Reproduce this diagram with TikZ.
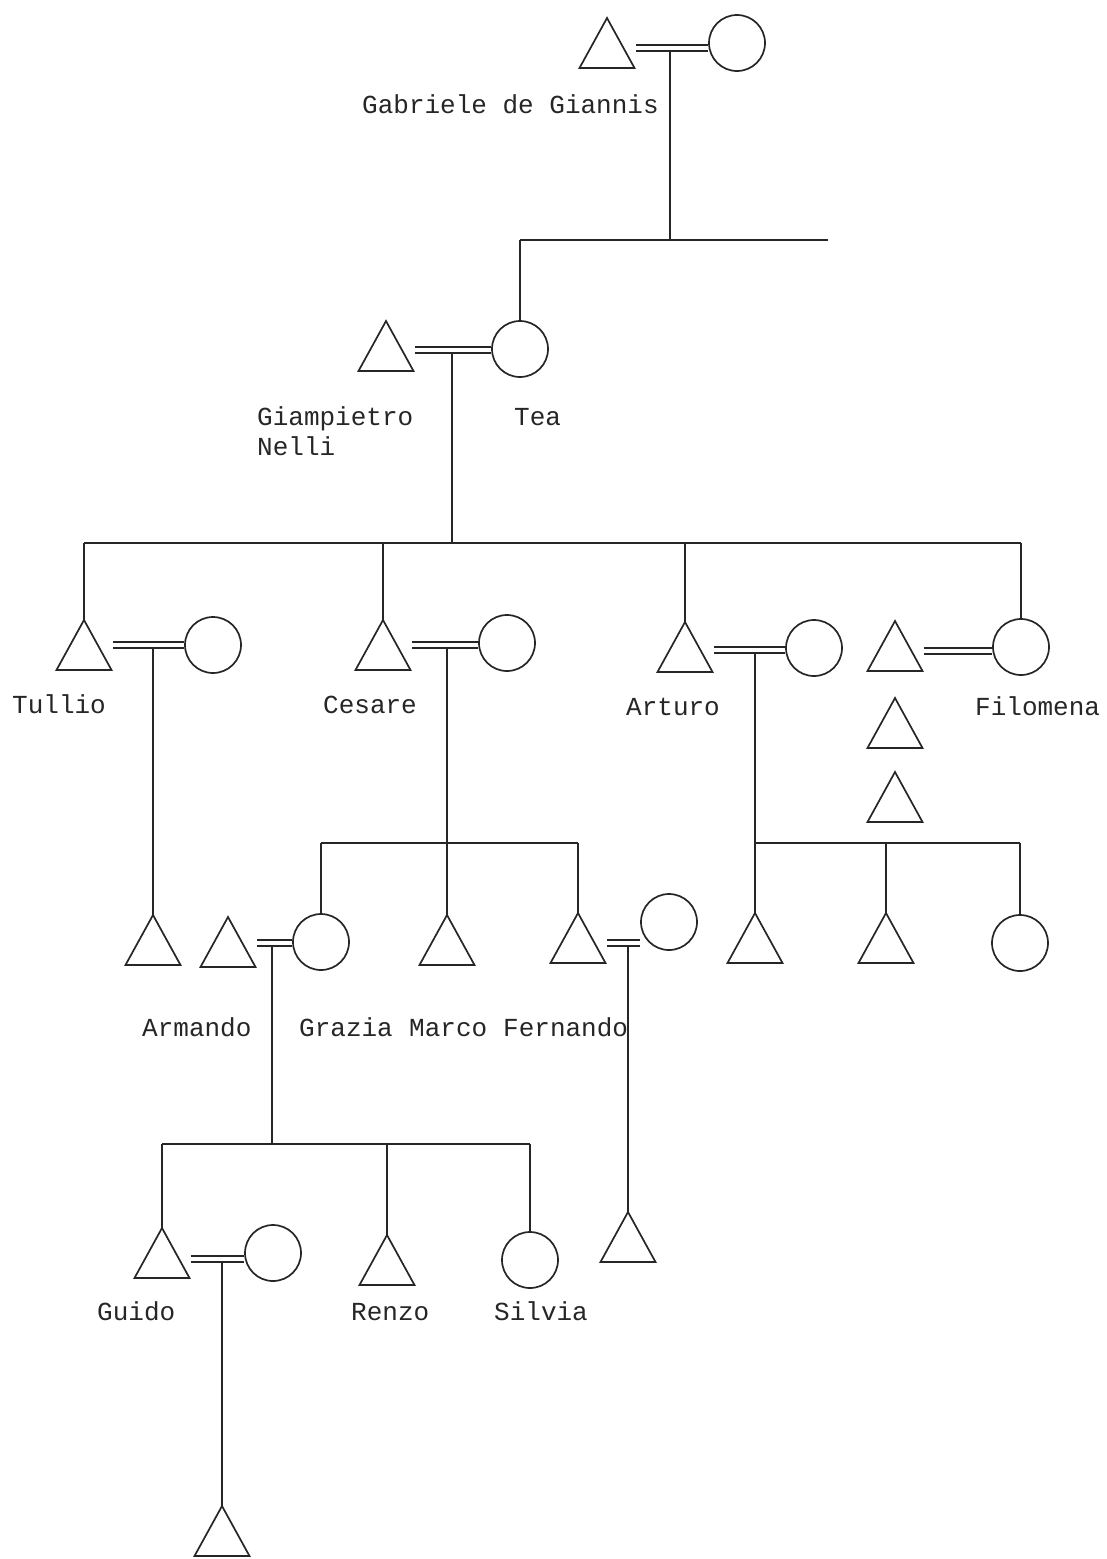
\documentclass[tikz,border=0pt]{standalone}
\usepackage{fontspec}
\newfontfamily\plotfont{Liberation Mono}
\usetikzlibrary{calc}
\definecolor{ink}{HTML}{262626}
\tikzset{
  shapeline/.style={draw=ink, line width=1.7pt, line join=miter},
  kin/.style={draw=ink, line width=1.1pt},
  wedline/.style={draw=ink, line width=1.6pt},
  female/.style={circle, shapeline, minimum size=56pt, inner sep=0pt},
  lbl/.style={font=\plotfont\fontsize{26}{30}\selectfont, text=ink, inner sep=0pt, anchor=base west},
  male/.pic={
    \draw[shapeline] (0,-25) -- (27.5,25) -- (-27.5,25) -- cycle;
    \coordinate (-apex) at (0,-25);
    \coordinate (-r) at (29,0);
  },
}
% double marriage line between a man (#1) and a woman (#2); #3 lies on the lower line
\newcommand\wedlock[3]{%
  \draw[wedline] (#1-r |- #3) -- (#3 -| #2.west);
  \draw[wedline] ($(#1-r |- #3)+(0,-6)$) -- ($(#3 -| #2.west)+(0,-6)$);}

\begin{document}
\begin{tikzpicture}[x=1pt,y=-1pt]
\fill[white] (0,0) rectangle (1107,1559);
\useasboundingbox (0,0) rectangle (1107,1559);

% sibling-line levels
\coordinate (lv1) at (0,240);
\coordinate (lv2) at (0,543);
\coordinate (lv3) at (0,843);
\coordinate (lv5) at (0,1144);
\coordinate (s1end) at (828,240);

% ---------- generation 1
\pic (t0) at (607,43) {male};
\node[female] (c0) at (737,43) {};
\coordinate (m0) at (670,51);
\wedlock{t0}{c0}{m0}
\node[lbl] (lgab) at (362,113) {Gabriele de Giannis};

% ---------- generation 2
\pic (t1) at (386,346) {male};
\node[female] (c1) at (520,349) {};
\coordinate (m1) at (452,353);
\wedlock{t1}{c1}{m1}
\node[lbl] (lgia) at (257,425) {Giampietro};
\node[lbl] (lnel) at (257,455) {Nelli};
\node[lbl] (ltea) at (514,425) {Tea};

\draw[kin] (m0) -- (m0 |- lv1);
\draw[kin] (c1.north |- lv1) -- (s1end);
\draw[kin] (c1.north |- lv1) -- (c1.north);

% ---------- generation 3
\pic (tu) at (84,645) {male};
\node[female] (tuw) at (213,645) {};
\coordinate (mtu) at (153,648);
\wedlock{tu}{tuw}{mtu}
\node[lbl] (ltul) at (12,713) {Tullio};

\pic (ce) at (383,645) {male};
\node[female] (cew) at (507,643) {};
\coordinate (mce) at (447,648);
\wedlock{ce}{cew}{mce}
\node[lbl] (lces) at (323,713) {Cesare};

\pic (ar) at (685,647) {male};
\node[female] (arw) at (814,648) {};
\coordinate (mar) at (755,653);
\wedlock{ar}{arw}{mar}
\node[lbl] (lart) at (626,715) {Arturo};

\pic (fh) at (895,646) {male};
\node[female] (fi) at (1021,647) {};
\coordinate (mfi) at (955,654);
\wedlock{fh}{fi}{mfi}
\node[lbl] (lfil) at (975,715) {Filomena};
\pic (ft1) at (895,723) {male};
\pic (ft2) at (895,797) {male};

\draw[kin] (m1) -- (m1 |- lv2);
\draw[kin] (tu-apex |- lv2) -- (fi.north |- lv2);
\foreach \p in {tu-apex, ce-apex, ar-apex, fi.north}
  \draw[kin] (\p |- lv2) -- (\p);

% ---------- generation 4
\pic (tuc) at (153,940) {male};
\draw[kin] (mtu) -- (tuc-apex);

\pic (arm) at (228,942) {male};
\node[female] (gr) at (321,942) {};
\coordinate (marm) at (272,946);
\wedlock{arm}{gr}{marm}

\pic (ma) at (447,940) {male};

\pic (fe) at (578,938) {male};
\node[female] (few) at (669,922) {};
\coordinate (mfe) at (628,946);
\wedlock{fe}{few}{mfe}

\node[lbl] (larm) at (142,1036) {Armando};
\node[lbl] (lgra) at (299,1036) {Grazia};
\node[lbl] (lmar) at (409,1036) {Marco};
\node[lbl] (lfer) at (503,1036) {Fernando};

\draw[kin] (mce) -- (ma-apex);
\draw[kin] (gr.north |- lv3) -- (fe-apex |- lv3);
\foreach \p in {gr.north, fe-apex}
  \draw[kin] (\p |- lv3) -- (\p);

\pic (ac1) at (755,938) {male};
\pic (ac2) at (886,938) {male};
\node[female] (ac3) at (1020,943) {};
\draw[kin] (mar) -- (mar |- lv3);
\draw[kin] (ac1-apex |- lv3) -- (ac3.north |- lv3);
\foreach \p in {ac1-apex, ac2-apex, ac3.north}
  \draw[kin] (\p |- lv3) -- (\p);

% ---------- generation 5
\pic (gu) at (162,1253) {male};
\node[female] (guw) at (273,1253) {};
\coordinate (mgu) at (222,1262);
\wedlock{gu}{guw}{mgu}

\pic (re) at (387,1260) {male};
\node[female] (si) at (530,1260) {};
\pic (fec) at (628,1237) {male};

\node[lbl] (lgui) at (97,1320) {Guido};
\node[lbl] (lren) at (351,1320) {Renzo};
\node[lbl] (lsil) at (494,1320) {Silvia};

\draw[kin] (marm) -- (marm |- lv5);
\draw[kin] (gu-apex |- lv5) -- (si.north |- lv5);
\foreach \p in {gu-apex, re-apex, si.north}
  \draw[kin] (\p |- lv5) -- (\p);
\draw[kin] (mfe) -- (fec-apex);

% ---------- generation 6
\pic (bt) at (222,1531) {male};
\draw[kin] (mgu) -- (bt-apex);

\end{tikzpicture}
\end{document}
